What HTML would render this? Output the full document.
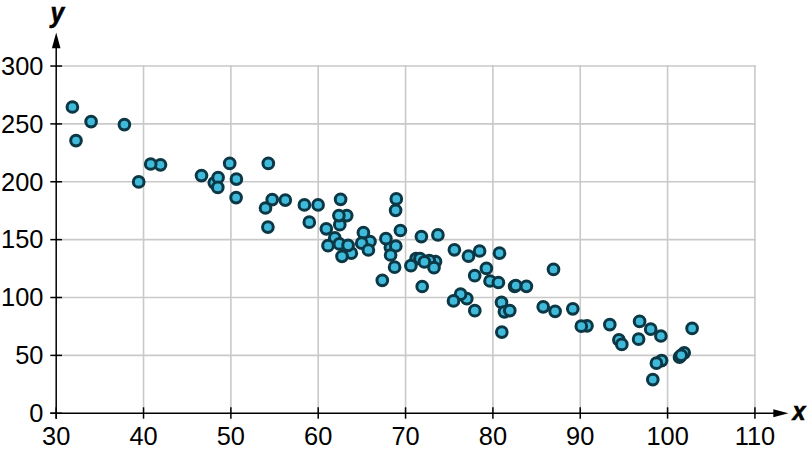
<!DOCTYPE html>
<html><head><meta charset="utf-8"><style>
html,body{margin:0;padding:0;background:#fff;}
body{width:807px;height:455px;overflow:hidden;}
svg{display:block;}
text{font-family:"Liberation Sans",Arial,sans-serif;fill:#000;}
</style></head><body>
<svg width="807" height="455" viewBox="0 0 807 455">
<rect width="807" height="455" fill="#fff"/>
<g stroke="#c9c9c9" stroke-width="1.6" stroke-linecap="square"><line x1="143.54" y1="65.9" x2="143.54" y2="413.25"/><line x1="230.88" y1="65.9" x2="230.88" y2="413.25"/><line x1="318.22" y1="65.9" x2="318.22" y2="413.25"/><line x1="405.56" y1="65.9" x2="405.56" y2="413.25"/><line x1="492.90" y1="65.9" x2="492.90" y2="413.25"/><line x1="580.24" y1="65.9" x2="580.24" y2="413.25"/><line x1="667.58" y1="65.9" x2="667.58" y2="413.25"/><line x1="754.92" y1="65.9" x2="754.92" y2="413.25"/><line x1="56.2" y1="355.38" x2="754.9" y2="355.38"/><line x1="56.2" y1="297.51" x2="754.9" y2="297.51"/><line x1="56.2" y1="239.64" x2="754.9" y2="239.64"/><line x1="56.2" y1="181.77" x2="754.9" y2="181.77"/><line x1="56.2" y1="123.90" x2="754.9" y2="123.90"/><line x1="56.2" y1="66.03" x2="754.9" y2="66.03"/></g>
<g stroke="#000" stroke-width="1.5">
<line x1="56.2" y1="46" x2="56.2" y2="418.7"/>
<line x1="50.3" y1="413.25" x2="775" y2="413.25"/>
<line x1="56.20" y1="407.3" x2="56.20" y2="418.7"/><line x1="143.54" y1="407.3" x2="143.54" y2="418.7"/><line x1="230.88" y1="407.3" x2="230.88" y2="418.7"/><line x1="318.22" y1="407.3" x2="318.22" y2="418.7"/><line x1="405.56" y1="407.3" x2="405.56" y2="418.7"/><line x1="492.90" y1="407.3" x2="492.90" y2="418.7"/><line x1="580.24" y1="407.3" x2="580.24" y2="418.7"/><line x1="667.58" y1="407.3" x2="667.58" y2="418.7"/><line x1="754.92" y1="407.3" x2="754.92" y2="418.7"/><line x1="50.3" y1="413.25" x2="62.0" y2="413.25"/><line x1="50.3" y1="355.38" x2="62.0" y2="355.38"/><line x1="50.3" y1="297.51" x2="62.0" y2="297.51"/><line x1="50.3" y1="239.64" x2="62.0" y2="239.64"/><line x1="50.3" y1="181.77" x2="62.0" y2="181.77"/><line x1="50.3" y1="123.90" x2="62.0" y2="123.90"/><line x1="50.3" y1="66.03" x2="62.0" y2="66.03"/>
</g>
<polygon points="56.2,32.5 51.9,48.2 60.5,48.2" fill="#000"/>
<polygon points="788.4,413.25 773.3,409.15 773.3,417.35" fill="#000"/>
<g font-size="25.4" text-anchor="middle"><text x="56.20" y="445.2">30</text><text x="143.54" y="445.2">40</text><text x="230.88" y="445.2">50</text><text x="318.22" y="445.2">60</text><text x="405.56" y="445.2">70</text><text x="492.90" y="445.2">80</text><text x="580.24" y="445.2">90</text><text x="667.58" y="445.2">100</text><text x="754.92" y="445.2">110</text></g>
<g font-size="25.4" text-anchor="end"><text x="43.4" y="422.05">0</text><text x="43.4" y="364.18">50</text><text x="43.4" y="306.31">100</text><text x="43.4" y="248.44">150</text><text x="43.4" y="190.57">200</text><text x="43.4" y="132.70">250</text><text x="43.4" y="74.83">300</text></g>
<text transform="translate(50.6,21.5) scale(0.9,1)" font-size="27.3" font-weight="bold" font-style="italic" stroke="#000" stroke-width="0.6">y</text>
<text transform="translate(792.6,419.6) scale(0.92,1)" font-size="25.5" font-weight="bold" font-style="italic" stroke="#000" stroke-width="0.6">x</text>
<g fill="#3fbadb" stroke="#0c3745" stroke-width="3"><circle cx="72.4" cy="107.0" r="5.35"/><circle cx="91.1" cy="121.6" r="5.35"/><circle cx="76.0" cy="140.6" r="5.35"/><circle cx="124.4" cy="124.6" r="5.35"/><circle cx="160.5" cy="164.8" r="5.35"/><circle cx="150.7" cy="164.0" r="5.35"/><circle cx="138.7" cy="181.9" r="5.35"/><circle cx="201.5" cy="175.6" r="5.35"/><circle cx="214.3" cy="182.8" r="5.35"/><circle cx="218.1" cy="177.5" r="5.35"/><circle cx="217.8" cy="187.4" r="5.35"/><circle cx="229.7" cy="163.4" r="5.35"/><circle cx="236.4" cy="179.1" r="5.35"/><circle cx="236.1" cy="197.6" r="5.35"/><circle cx="268.3" cy="163.4" r="5.35"/><circle cx="265.5" cy="208.0" r="5.35"/><circle cx="272.2" cy="199.6" r="5.35"/><circle cx="285.3" cy="200.1" r="5.35"/><circle cx="267.9" cy="227.1" r="5.35"/><circle cx="304.4" cy="204.9" r="5.35"/><circle cx="318.1" cy="204.9" r="5.35"/><circle cx="309.3" cy="222.2" r="5.35"/><circle cx="326.3" cy="228.8" r="5.35"/><circle cx="340.6" cy="199.3" r="5.35"/><circle cx="339.8" cy="224.7" r="5.35"/><circle cx="346.7" cy="215.6" r="5.35"/><circle cx="338.9" cy="215.6" r="5.35"/><circle cx="334.8" cy="237.9" r="5.35"/><circle cx="328.0" cy="245.7" r="5.35"/><circle cx="339.4" cy="243.9" r="5.35"/><circle cx="351.3" cy="253.2" r="5.35"/><circle cx="348.1" cy="245.3" r="5.35"/><circle cx="342.0" cy="256.3" r="5.35"/><circle cx="363.4" cy="232.7" r="5.35"/><circle cx="370.0" cy="241.5" r="5.35"/><circle cx="361.7" cy="243.2" r="5.35"/><circle cx="368.4" cy="250.0" r="5.35"/><circle cx="390.4" cy="247.6" r="5.35"/><circle cx="385.9" cy="238.7" r="5.35"/><circle cx="395.8" cy="246.0" r="5.35"/><circle cx="390.6" cy="255.0" r="5.35"/><circle cx="394.6" cy="267.2" r="5.35"/><circle cx="396.3" cy="198.9" r="5.35"/><circle cx="395.6" cy="210.3" r="5.35"/><circle cx="400.4" cy="230.5" r="5.35"/><circle cx="382.3" cy="280.3" r="5.35"/><circle cx="416.1" cy="258.5" r="5.35"/><circle cx="420.0" cy="258.5" r="5.35"/><circle cx="435.5" cy="261.7" r="5.35"/><circle cx="429.3" cy="260.5" r="5.35"/><circle cx="410.9" cy="265.7" r="5.35"/><circle cx="424.4" cy="261.9" r="5.35"/><circle cx="434.0" cy="267.7" r="5.35"/><circle cx="421.4" cy="236.6" r="5.35"/><circle cx="437.9" cy="234.9" r="5.35"/><circle cx="422.2" cy="286.5" r="5.35"/><circle cx="454.4" cy="249.8" r="5.35"/><circle cx="468.5" cy="256.2" r="5.35"/><circle cx="479.6" cy="251.0" r="5.35"/><circle cx="499.5" cy="253.2" r="5.35"/><circle cx="486.4" cy="268.4" r="5.35"/><circle cx="474.7" cy="275.7" r="5.35"/><circle cx="490.0" cy="281.0" r="5.35"/><circle cx="498.4" cy="282.5" r="5.35"/><circle cx="514.6" cy="286.3" r="5.35"/><circle cx="515.8" cy="285.6" r="5.35"/><circle cx="526.4" cy="286.3" r="5.35"/><circle cx="466.8" cy="298.7" r="5.35"/><circle cx="460.6" cy="294.2" r="5.35"/><circle cx="453.5" cy="300.9" r="5.35"/><circle cx="501.5" cy="302.4" r="5.35"/><circle cx="504.4" cy="311.8" r="5.35"/><circle cx="509.8" cy="310.6" r="5.35"/><circle cx="553.5" cy="269.4" r="5.35"/><circle cx="543.2" cy="306.8" r="5.35"/><circle cx="555.1" cy="311.3" r="5.35"/><circle cx="572.8" cy="308.8" r="5.35"/><circle cx="501.8" cy="332.1" r="5.35"/><circle cx="587.0" cy="325.8" r="5.35"/><circle cx="581.3" cy="326.2" r="5.35"/><circle cx="609.8" cy="324.6" r="5.35"/><circle cx="639.6" cy="321.4" r="5.35"/><circle cx="650.7" cy="329.2" r="5.35"/><circle cx="660.9" cy="336.0" r="5.35"/><circle cx="638.6" cy="339.2" r="5.35"/><circle cx="618.9" cy="339.9" r="5.35"/><circle cx="621.8" cy="344.4" r="5.35"/><circle cx="661.6" cy="360.6" r="5.35"/><circle cx="656.4" cy="363.2" r="5.35"/><circle cx="652.8" cy="379.6" r="5.35"/><circle cx="679.5" cy="357.2" r="5.35"/><circle cx="684.2" cy="352.8" r="5.35"/><circle cx="681.2" cy="355.3" r="5.35"/><circle cx="692.1" cy="328.4" r="5.35"/><circle cx="474.8" cy="310.7" r="5.35"/></g>
</svg>
</body></html>
